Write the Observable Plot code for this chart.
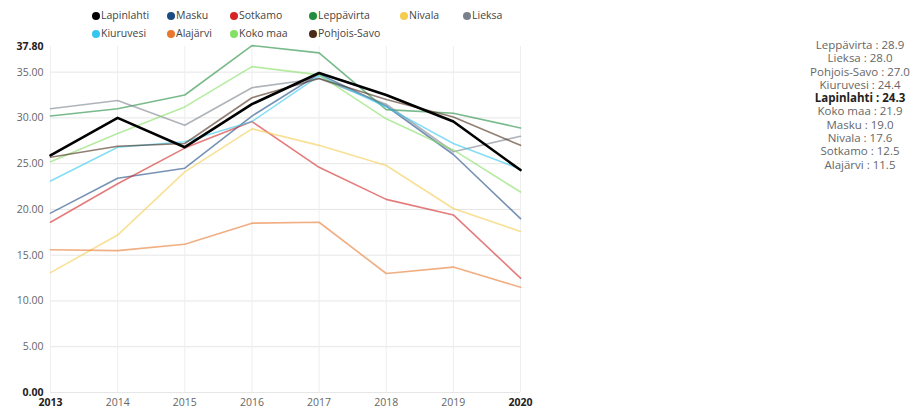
<!DOCTYPE html>
<html>
<head>
<meta charset="utf-8">
<script src="https://cdn.jsdelivr.net/npm/d3@7"></script>
<script src="https://cdn.jsdelivr.net/npm/@observablehq/plot@0.6"></script>
<style>
  html, body { margin: 0; padding: 0; background: #fff; }
  #wrap { position: relative; width: 916px; height: 412px; font-family: "Open Sans", "DejaVu Sans", sans-serif; overflow: hidden; }
  #chart { position: absolute; left: 0; top: 0; }
  .leg { position: absolute; font-size: 10.5px; color: #444; white-space: nowrap; line-height: 12px; height: 12px; }
  .leg i { display: inline-block; width: 8px; height: 8px; border-radius: 50%; vertical-align: -0.5px; margin-right: 1px; }
  #side { position: absolute; left: 790px; top: 38px; width: 140px; text-align: center; font-size: 11.5px; letter-spacing: 0px; color: #666; line-height: 13.3px; }
  #side b { color: #222; }
</style>
</head>
<body>
<div id="wrap">
  <div id="chart"></div>
  <div id="legend"></div>
  <div id="side"></div>
</div>
<script>
const years = [2013, 2014, 2015, 2016, 2017, 2018, 2019, 2020];
const names = ["Lapinlahti", "Masku", "Sotkamo", "Leppävirta", "Nivala", "Lieksa", "Kiuruvesi", "Alajärvi", "Koko maa", "Pohjois-Savo"];
const colors = ["#000000", "#1c4a82", "#d42424", "#1f8c3e", "#f4cc4e", "#7a808c", "#35c6ee", "#e8782f", "#84e062", "#4a2a18"];

const lapinlahti  = [25.9, 30.0, 26.8, 31.5, 34.9, 32.5, 29.6, 24.3];
const masku       = [19.6, 23.4, 24.5, 30.2, 34.8, 31.3, 26.0, 19.0];
const sotkamo     = [18.6, 22.8, 26.7, 29.6, 24.6, 21.1, 19.4, 12.5];
const leppavirta  = [30.2, 31.0, 32.5, 37.9, 37.1, 30.9, 30.5, 28.9];
const nivala      = [13.1, 17.2, 24.1, 28.8, 27.0, 24.8, 20.1, 17.6];
const lieksa      = [31.0, 31.9, 29.2, 33.3, 34.3, 31.5, 26.3, 28.0];
const kiuruvesi   = [23.1, 26.8, 27.4, 29.6, 34.6, 31.2, 27.2, 24.4];
const alajarvi    = [15.6, 15.5, 16.2, 18.5, 18.6, 13.0, 13.7, 11.5];
const kokomaa     = [25.2, 28.3, 31.2, 35.6, 34.7, 29.9, 26.5, 21.9];
const pohjoissavo = [25.7, 26.9, 27.2, 32.2, 34.3, 32.0, 30.1, 27.0];

const seriesValues = [lapinlahti, masku, sotkamo, leppavirta, nivala, lieksa, kiuruvesi, alajarvi, kokomaa, pohjoissavo];
const yTicks = [5, 10, 15, 20, 25, 30, 35];
const yEnds = [0, 37.8];
const xMid = [2014, 2015, 2016, 2017, 2018, 2019];
const xEnds = [2013, 2020];

const rows = [];
names.forEach((n, i) => seriesValues[i].forEach((v, j) => rows.push({name: n, year: years[j], value: v})));
const others = rows.filter(d => d.name !== "Lapinlahti");
const lap = rows.filter(d => d.name === "Lapinlahti");

const plot = Plot.plot({
  width: 916,
  height: 412,
  marginLeft: 50,
  marginRight: 396,
  marginTop: 46,
  marginBottom: 20,
  style: {fontFamily: "'Open Sans', 'DejaVu Sans', sans-serif", fontSize: "10.5px", background: "transparent"},
  x: {domain: [2013, 2020], axis: null},
  y: {domain: [0, 37.8], axis: null},
  color: {domain: names, range: colors},
  marks: [
    Plot.gridY([0, ...yTicks], {stroke: "#e6e6e6", strokeOpacity: 1}),
    Plot.gridX(years, {stroke: "#eeeeee", strokeOpacity: 1}),
    Plot.axisY(yTicks, {label: null, tickSize: 0, tickPadding: 7, tickFormat: d => d.toFixed(2), fill: "#666", fontSize: 10.5}),
    Plot.axisY(yEnds, {label: null, tickSize: 0, tickPadding: 7, tickFormat: d => d.toFixed(2), fill: "#222", fontWeight: "bold", fontSize: 10.5}),
    Plot.axisX(xMid, {label: null, tickSize: 0, tickPadding: 6, tickFormat: d => String(d), fill: "#666", fontSize: 10.5}),
    Plot.axisX(xEnds, {label: null, tickSize: 0, tickPadding: 6, tickFormat: d => String(d), fill: "#222", fontWeight: "bold", fontSize: 10.5}),
    Plot.line(others, {x: "year", y: "value", z: "name", stroke: "name", strokeWidth: 1.6, strokeOpacity: 0.6}),
    Plot.line(lap, {x: "year", y: "value", stroke: "name", strokeWidth: 2.6})
  ]
});
document.getElementById("chart").appendChild(plot);

// legend (dot centres)
const legPos = [
  [96, 15], [171, 15], [234, 15], [313, 15], [404, 15], [467, 15],
  [96, 33], [171, 33], [234, 33], [313, 33]
];
const legOrder = ["Lapinlahti", "Masku", "Sotkamo", "Leppävirta", "Nivala", "Lieksa", "Kiuruvesi", "Alajärvi", "Koko maa", "Pohjois-Savo"];
const legend = document.getElementById("legend");
legOrder.forEach((n, k) => {
  const el = document.createElement("div");
  el.className = "leg";
  el.style.left = (legPos[k][0] - 4) + "px";
  el.style.top = (legPos[k][1] - 6) + "px";
  const c = colors[names.indexOf(n)];
  el.innerHTML = `<i style="background:${c}"></i>${n}`;
  legend.appendChild(el);
});

// side list sorted by 2020 value
const side = document.getElementById("side");
const last = names.map((n, i) => ({name: n, v: seriesValues[i][seriesValues[i].length - 1]}))
  .sort((a, b) => b.v - a.v);
side.innerHTML = last.map(d => {
  const t = `${d.name} : ${d.v.toFixed(1)}`;
  return d.name === "Lapinlahti" ? `<div><b>${t}</b></div>` : `<div>${t}</div>`;
}).join("");
</script>
</body>
</html>
